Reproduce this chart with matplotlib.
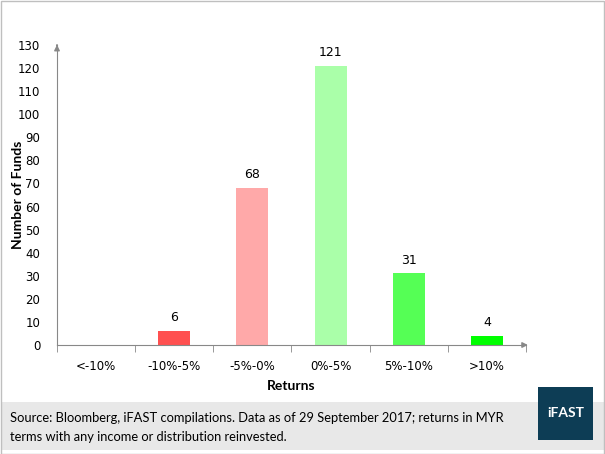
import numpy as np
import matplotlib
matplotlib.use('Agg')
import matplotlib.pyplot as plt
from matplotlib.patches import Rectangle

# Datos del gráfico
categorias = ['<-10%', '-10%-5%', '-5%-0%', '0%-5%', '5%-10%', '>10%']
num_fondos = [0, 6, 68, 121, 31, 4]
colores = ['#FF5050', '#FF5050', '#FFA9A9', '#AAFFA9', '#55FF55', '#00FF00']
yticks = list(range(0, 131, 10))

fig = plt.figure(figsize=[6.05, 4.54], dpi=100)
W, H = 605, 454

# borde gris del gráfico
fig.patches.append(Rectangle((0.5 / W, 0.5 / H), 1 - 1.5 / W, 1 - 1.5 / H, transform=fig.transFigure,
                             fill=False, edgecolor='#BFBFBF', linewidth=1))

ax = fig.add_axes([57 / W, (H - 345) / H, (526 - 57) / W, 300 / H])
x = np.arange(len(categorias))
ax.bar(x, num_fondos, width=0.41, color=colores)
for xi, v in zip(x, num_fondos):
    if v > 0:
        ax.text(xi, v + 3, str(v), ha='center', va='bottom', fontsize=9, family='DejaVu Sans')

ax.set_xlim(-0.5, len(categorias) - 0.5)
ax.set_ylim(0, 130)
ax.set_yticks(yticks)
ax.set_xticks(x)
ax.set_xticklabels(categorias, fontsize=8.5, family='DejaVu Sans')
ax.set_xticks(np.arange(-0.5, len(categorias)), minor=True)
ax.tick_params(axis='x', which='major', length=0, pad=11)
ax.tick_params(axis='x', which='minor', length=5, color='#888888', direction='out')
ax.tick_params(axis='y', length=0, labelsize=8.5, pad=12)
for lab in ax.get_yticklabels():
    lab.set_family('DejaVu Sans')

for s in ['top', 'right']:
    ax.spines[s].set_visible(False)
for s in ['left', 'bottom']:
    ax.spines[s].set_color('#888888')

# flechas de los ejes
ax.annotate('', xy=(1.01, 0), xytext=(0.99, 0), xycoords='axes fraction',
            arrowprops=dict(arrowstyle='-|>', color='#888888', lw=1, mutation_scale=8))
ax.annotate('', xy=(0, 1.01), xytext=(0, 0.99), xycoords='axes fraction',
            arrowprops=dict(arrowstyle='-|>', color='#888888', lw=1, mutation_scale=8))

ax.set_xlabel('Returns', fontsize=10, fontweight='bold', family='Lato', labelpad=5)
ax.set_ylabel('Number of Funds', fontsize=10, fontweight='bold', family='Lato')
ax.yaxis.set_label_coords((24 - 57) / 469, 0.5)

# banda inferior con la fuente
fig.patches.append(Rectangle((1 / W, 4 / H), (W - 2) / W, (451 - 403) / H, transform=fig.transFigure,
                             facecolor='#E8E8E8', edgecolor='none', zorder=0))
fig.text(10 / W, (H - 418) / H, 'Source: Bloomberg, iFAST compilations. Data as of 29 September 2017; returns in MYR',
         fontsize=9.3, family='Lato', va='center')
fig.text(10 / W, (H - 437) / H, 'terms with any income or distribution reinvested.',
         fontsize=9.3, family='Lato', va='center')

fig.patches.append(Rectangle((538 / W, (H - 440) / H), 55 / W, 53 / H, transform=fig.transFigure,
                             facecolor='#0D3D55', edgecolor='none', zorder=2))
fig.text(565.5 / W, (H - 413) / H, 'iFAST', color='white', fontsize=10, fontweight='bold',
         family='Lato', ha='center', va='center', zorder=3)

plt.savefig('out.png', dpi=100)
